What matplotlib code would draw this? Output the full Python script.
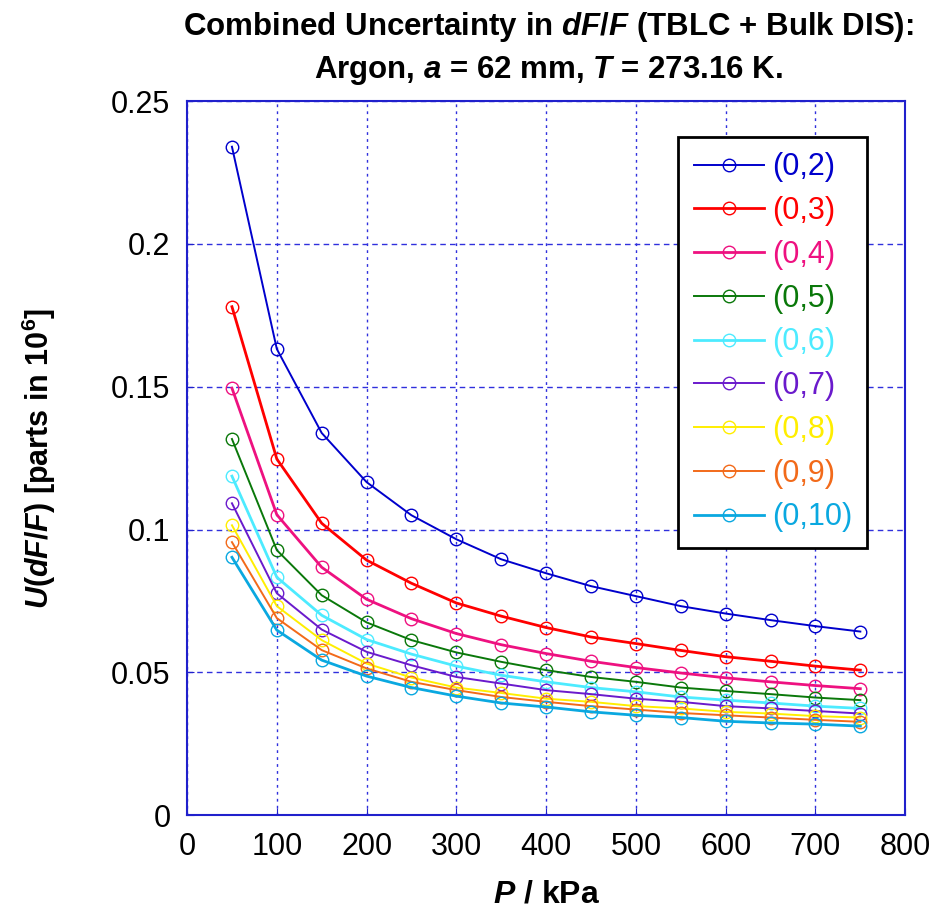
import numpy as np
import matplotlib.pyplot as plt

plt.rcParams['font.family'] = ['Liberation Sans', 'DejaVu Sans']
plt.rcParams['mathtext.fontset'] = 'custom'
plt.rcParams['mathtext.rm'] = 'Liberation Sans:bold'
plt.rcParams['mathtext.it'] = 'Liberation Sans:bold:italic'
plt.rcParams['mathtext.bf'] = 'Liberation Sans:bold'

# pressure in kPa
P = [50, 100, 150, 200, 250, 300, 350, 400, 450, 500, 550, 600, 650, 700, 750]

# U(dF/F) for each mode (0,n)
u_02 = [0.234, 0.1632, 0.1338, 0.1166, 0.1050, 0.0966, 0.0896, 0.0847, 0.0802, 0.0767, 0.0732, 0.0706, 0.0683, 0.0662, 0.0643]
u_03 = [0.178, 0.1247, 0.1022, 0.0893, 0.0812, 0.0743, 0.0697, 0.0657, 0.0624, 0.0601, 0.0577, 0.0555, 0.0539, 0.0522, 0.0508]
u_04 = [0.1495, 0.1052, 0.0868, 0.0756, 0.0688, 0.0636, 0.0597, 0.0566, 0.0539, 0.0517, 0.0498, 0.0481, 0.0467, 0.0454, 0.0443]
u_05 = [0.1317, 0.0928, 0.0770, 0.0675, 0.0613, 0.0570, 0.0537, 0.0508, 0.0484, 0.0467, 0.0447, 0.0435, 0.0424, 0.0412, 0.0403]
u_06 = [0.1187, 0.0833, 0.0700, 0.0615, 0.0564, 0.0522, 0.0490, 0.0467, 0.0447, 0.0432, 0.0414, 0.0403, 0.0393, 0.0382, 0.0374]
u_07 = [0.1092, 0.0777, 0.0650, 0.0572, 0.0525, 0.0484, 0.0461, 0.0438, 0.0424, 0.0408, 0.0397, 0.0382, 0.0374, 0.0365, 0.0356]
u_08 = [0.1015, 0.0732, 0.0613, 0.0531, 0.0482, 0.0447, 0.0428, 0.0408, 0.0397, 0.0382, 0.0374, 0.0362, 0.0356, 0.0347, 0.0342]
u_09 = [0.0956, 0.0690, 0.0578, 0.0514, 0.0467, 0.0438, 0.0414, 0.0397, 0.0382, 0.0370, 0.0358, 0.0350, 0.0342, 0.0334, 0.0327]
u_010 = [0.0903, 0.0648, 0.0543, 0.0487, 0.0447, 0.0417, 0.0393, 0.0379, 0.0362, 0.0350, 0.0342, 0.0329, 0.0323, 0.0319, 0.0312]

labels = ['(0,2)', '(0,3)', '(0,4)', '(0,5)', '(0,6)', '(0,7)', '(0,8)', '(0,9)', '(0,10)']
series = [u_02, u_03, u_04, u_05, u_06, u_07, u_08, u_09, u_010]
colors = ['#0000CC', '#FF0000', '#EE1180', '#0A780A', '#4DEBFF', '#6A1ACC', '#FFEE00', '#F26A1A', '#0AA8E0']
widths = [1.4, 2.0, 2.0, 1.4, 2.0, 1.4, 1.4, 1.4, 2.0]

fig = plt.figure(figsize=(9.4, 9.15), dpi=100)
ax = fig.add_axes([0.199, 0.109, 0.764, 0.7806])

for y, lab, c, w in zip(series, labels, colors, widths):
    ax.plot(P, y, color=c, lw=w, marker='o', ms=9, mfc='none', mec=c, mew=1.0, label=lab)

ax.set_xlim(0, 800)
ax.set_ylim(0, 0.25)
ax.set_xticks(range(0, 801, 100))
ax.set_yticks([0, 0.05, 0.1, 0.15, 0.2, 0.25])
ax.set_yticklabels(['0', '0.05', '0.1', '0.15', '0.2', '0.25'])
ax.tick_params(labelsize=22, direction='in', color='#2020CC', length=5)
ax.tick_params(axis='y', pad=12)
ax.tick_params(axis='x', pad=12)
ax.grid(True, axis='x', color='#3030DD', ls=(0, (2, 3)), lw=1)
ax.grid(True, axis='y', color='#3030DD', ls=(0, (4, 3)), lw=1)
for s in ax.spines.values():
    s.set_color('#2020CC')
    s.set_linewidth(1.5)

ax.set_xlabel(r'$P$ / kPa', fontsize=23, fontweight='bold', labelpad=13)
ax.set_ylabel(r'$U$($dF/F$) [parts in 10$^{6}$]', fontsize=22, fontweight='bold', labelpad=38)

fig.text(0.583, 0.970, r'Combined Uncertainty in $dF/F$ (TBLC + Bulk DIS):',
         ha='center', va='center', fontsize=22.5, fontweight='bold')
fig.text(0.583, 0.923, r'Argon, $a$ = 62 mm, $T$ = 273.16 K.',
         ha='center', va='center', fontsize=22.5, fontweight='bold')

leg = ax.legend(loc='upper right', bbox_to_anchor=(0.947, 0.9496), borderaxespad=0,
                fontsize=22, frameon=True, fancybox=False, edgecolor='black', framealpha=1,
                handlelength=2.29, handletextpad=0.26, labelspacing=0.45,
                borderpad=0.5, markerscale=1.0)
leg.get_frame().set_linewidth(2)
for t, c in zip(leg.get_texts(), colors):
    t.set_color(c)

fig.savefig('out.png', dpi=100)
